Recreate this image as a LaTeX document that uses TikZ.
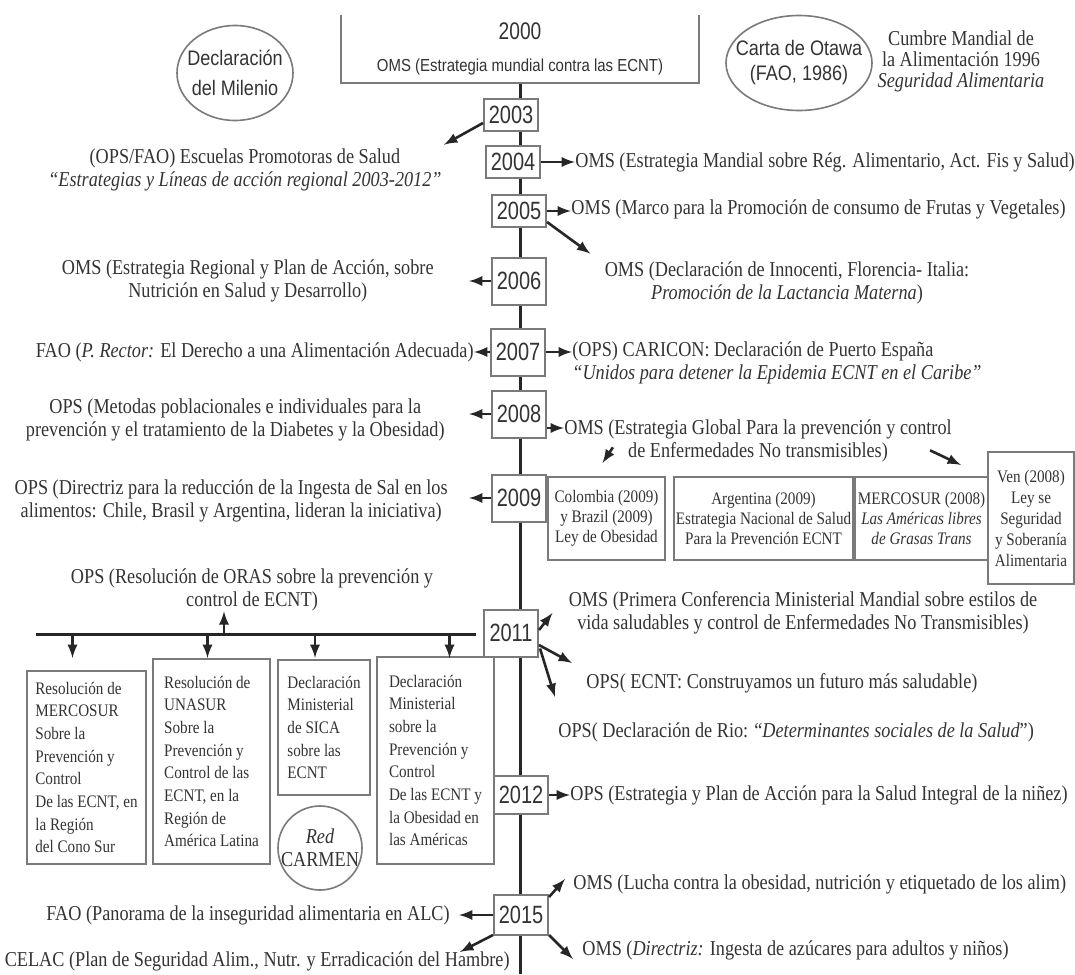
\documentclass[tikz,border=0pt]{standalone}
\usepackage{fontspec}
\setmainfont{Liberation Serif}[FakeStretch=0.86]
\setsansfont{Liberation Sans}[FakeStretch=0.86]
\newfontfamily\yearfont{Liberation Sans}[FakeStretch=0.8]
\usepackage{tikz}
\usetikzlibrary{arrows,positioning,shapes.geometric,calc,backgrounds}
\definecolor{ink}{HTML}{333333}
\definecolor{frame}{HTML}{7A7A7A}
\newcommand\txtsize{\fontsize{10.6}{11.3}\selectfont}
\newcommand\boxsize{\fontsize{8.8}{11.35}\selectfont}

\begin{document}
\begin{tikzpicture}[x=0.5pt, y=-0.5pt, >=latex,
    every node/.style={text=ink, inner sep=0pt},
    txt/.style={font=\txtsize, align=center},
    yearbox/.style={draw=frame, line width=1pt, fill=white,
        font={\yearfont\fontsize{12.5}{13}\selectfont},
        minimum width=27pt, minimum height=23.5pt},
    yearsmall/.style={yearbox, minimum height=16pt},
    evbox/.style={draw=frame, line width=1pt, align=center,
        font=\fontsize{8.8}{10}\selectfont, anchor=north west},
    resbox/.style={draw=frame, line width=1pt, align=left,
        font=\boxsize, anchor=north west},
    oval/.style={draw=frame, ellipse, line width=0.8pt},
    arr/.style={->, line width=1.3pt, black!85},
    bar/.style={line width=1.5pt, black!85},
    timeline/.style={line width=1.5pt, black!85}]
\useasboundingbox (0,0) rectangle (1075,974);

\node[minimum width=179pt, minimum height=34pt, align=center] (y2000) at (520,49)
    {{\yearfont\fontsize{12}{12}\selectfont 2000}\\[4pt]
     {\sffamily\fontsize{8.7}{10}\selectfont OMS (Estrategia mundial contra las ECNT)}};
\draw[draw=frame, line width=1pt] (y2000.north west) |- (y2000.south east) -- (y2000.north east);

\node[oval, minimum width=58pt, minimum height=47.5pt] (milenio) at (235,73) {};
\node[font=\sffamily\fontsize{10.5}{15}\selectfont, align=center] at (milenio) {Declaración\\del Milenio};
\node[oval, minimum width=73pt, minimum height=47.5pt] (otawa) at (799,63) {};
\node[font=\sffamily\fontsize{10.5}{12.5}\selectfont, align=center] at (otawa) {Carta de Otawa\\(FAO, 1986)};
\node[txt, font=\fontsize{10.6}{10.5}\selectfont] (cumbre) at (961,61)
    {Cumbre Mandial de\\la Alimentación 1996\\\textit{Seguridad Alimentaria}};

\node[yearsmall] (y2003) at (511,115) {2003};
\node[yearsmall] (y2004) at (513,162) {2004};
\node[yearsmall] (y2005) at (519,211) {2005};
\node[yearbox] (y2006) at (519,281) {2006};
\node[yearbox] (y2007) at (518,352) {2007};
\node[yearbox] (y2008) at (519,414) {2008};
\node[yearbox] (y2009) at (519,498) {2009};
\node[yearbox] (y2011) at (511,633) {2011};
\node[yearbox, minimum height=19pt] (y2012) at (521,795) {2012};
\node[yearbox, minimum height=20pt] (y2015) at (521,915) {2015};
\coordinate (tlend) at (520,974);

\node[txt, anchor=east] (ops2003) at (442,170)
    {(OPS/FAO) Escuelas Promotoras de Salud\\\textit{“Estrategias y Líneas de acción regional 2003-2012”}};
\node[txt, anchor=west] (oms2004) at (575,162)
    {OMS (Estrategia Mandial sobre Rég. Alimentario, Act. Fis y Salud)};
\node[txt, anchor=west] (oms2005) at (571,209)
    {OMS (Marco para la Promoción de consumo de Frutas y Vegetales)};
\node[txt] (inno2005) at (787,283)
    {OMS (Declaración de Innocenti, Florencia- Italia:\\\textit{Promoción de la Lactancia Materna})};
\node[txt, anchor=east] (ops2006) at (434,281)
    {OMS (Estrategia Regional y Plan de Acción, sobre\\Nutrición en Salud y Desarrollo)};
\node[txt, anchor=east] (fao2007) at (474,352)
    {FAO (\textit{P. Rector:} El Derecho a una Alimentación Adecuada)};
\node[txt, anchor=west, align=left] (cari2007) at (572,363)
    {(OPS) CARICON: Declaración de Puerto España\\\textit{“Unidos para detener la Epidemia ECNT en el Caribe”}};
\node[txt, anchor=east] (ops2008) at (445,420)
    {OPS (Metodas poblacionales e individuales para la\\prevención y el tratamiento de la Diabetes y la Obesidad)};
\node[txt] (oms2008) at (758,441)
    {OMS (Estrategia Global Para la prevención y control\\de Enfermedades No transmisibles)};
\node[txt, anchor=east] (ops2009) at (448,501)
    {OPS (Directriz para la reducción de la Ingesta de Sal en los\\alimentos: Chile, Brasil y Argentina, lideran la iniciativa)};

\node[evbox, minimum width=58.5pt, minimum height=41.5pt] (col) at (547,476)
    {Colombia (2009)\\y Brazil (2009)\\Ley de Obesidad};
\node[evbox, minimum width=89.5pt, minimum height=41.5pt] (arg) at (673,476)
    {Argentina (2009)\\Estrategia Nacional de Salud\\Para la Prevención ECNT};
\node[evbox, minimum width=66.5pt, minimum height=41.5pt] (merc) at (arg.north east)
    {MERCOSUR (2008)\\\textit{Las Américas libres}\\\textit{de Grasas Trans}};
\node[evbox, minimum width=43pt, minimum height=66pt, font=\fontsize{8.8}{10.5}\selectfont] (ven) at (987,451)
    {Ven (2008)\\Ley se\\Seguridad\\y Soberanía\\Alimentaria};

\node[txt] (oras) at (252,590) {OPS (Resolución de ORAS sobre la prevención y\\control de ECNT)};
\coordinate (barW) at (36,634);
\coordinate (barE) at (476,634);
\coordinate (up) at (224,634);

\node[resbox, minimum width=59.5pt, minimum height=96.5pt] (b1) at (26,670)
    {Resolución de\\MERCOSUR\\Sobre la\\Prevención y\\Control\\De las ECNT, en\\la Región\\del Cono Sur};
\node[resbox, minimum width=58.5pt, minimum height=102.5pt] (b2) at (152,658)
    {Resolución de\\UNASUR\\Sobre la\\Prevención y\\Control de las\\ECNT, en la\\Región de\\América Latina};
\node[resbox, minimum width=46pt, minimum height=67.5pt] (b3) at (277,659)
    {Declaración\\Ministerial\\de SICA\\sobre las\\ECNT};
\node[resbox, minimum width=58.5pt, minimum height=103.5pt] (b4) at (376,656)
    {Declaración\\Ministerial\\sobre la\\Prevención y\\Control\\De las ECNT y\\la Obesidad en\\las Américas};
\node[draw=frame, line width=0.8pt, circle, minimum size=42pt] (carmen) at (320,848) {};
\node[txt] at (carmen) {\textit{Red}\\CARMEN};

\node[txt] (prim2011) at (803,613)
    {OMS (Primera Conferencia Ministerial Mandial sobre estilos de\\vida saludables y control de Enfermedades No Transmisibles)};
\node[txt, anchor=west] (ecnt2011) at (586,683) {OPS( ECNT: Construyamos un futuro más saludable)};
\node[txt, anchor=west] (rio2011) at (558,732)
    {OPS( Declaración de Rio: “\textit{Determinantes sociales de la Salud}”)};
\node[txt, anchor=west] (ops2012) at (570,795)
    {OPS (Estrategia y Plan de Acción para la Salud Integral de la niñez)};
\node[txt, anchor=west] (lucha2015) at (573,884)
    {OMS (Lucha contra la obesidad, nutrición y etiquetado de los alim)};
\node[txt, anchor=west] (azuc2015) at (582,950)
    {OMS (\textit{Directriz:} Ingesta de azúcares para adultos y niños)};
\node[txt, anchor=east] (fao2015) at (450,915) {FAO (Panorama de la inseguridad alimentaria en ALC)};
\node[txt, anchor=east] (celac) at (510,961)
    {CELAC (Plan de Seguridad Alim., Nutr. y Erradicación del Hambre)};

\begin{scope}[on background layer]
\draw[timeline] (y2000.south) -- (tlend);
\end{scope}

\draw[arr] ($(y2003.west)+(0,8)$) -- ($(ops2003.north east)+(2,-4)$);
\draw[arr] (y2004.east) -- (y2004.east -| oms2004.west);
\draw[arr] (y2005.east) -- (y2005.east -| oms2005.west);
\draw[arr] ($(y2005.south east)+(0,-6)$) -- ($(inno2005.north west)+(-14,-8)$);
\draw[arr] (y2006.west) -- ($(ops2006.east)+(35,0)$);
\draw[arr] (y2007.west) -- (y2007.west -| fao2007.east);
\draw[arr] (y2007.east) -- (y2007.east -| cari2007.west);
\draw[arr] (y2008.west) -- ($(y2008.west -| ops2008.east)+(24,0)$);
\draw[arr] ($(y2008.east)+(0,14)$) -- ($(y2008.east -| oms2008.west)+(0,14)$);
\draw[arr] ($(oms2008.south west)+(49,-15)$) -- ($(col.north)+(-4,-13)$);
\draw[arr] ($(oms2008.south east)+(-22,-12)$) -- ($(ven.north west)+(-26,14)$);
\draw[arr] (y2009.west) -- ($(y2009.west -| ops2009.east)+(21,0)$);

\draw[bar] (barW) -- (barE);
\draw[arr] (up) -- (up |- oras.south);
\foreach \b/\dx in {b1/-14,b2/-4,b3/-9,b4/14}{
    \coordinate (tip) at ($(\b.north)+(\dx,0)$);
    \draw[arr] (tip |- barW) -- (tip |- b2.north);
}
\draw[arr] ($(y2011.east)+(0,-3)$) -- ($(prim2011.west)+(-16,0)$);
\draw[arr] ($(y2011.east)+(0,12)$) -- ($(ecnt2011.west)+(-14,-20)$);
\draw[arr] ($(y2011.south east)+(1,-9)$) -- ($(rio2011.west)+(-3,-35)$);
\draw[arr] (y2012.east) -- (y2012.east -| ops2012.west);
\draw[arr] ($(y2015.north east)+(0,3)$) -- ($(lucha2015.west)+(-8,-5)$);
\draw[arr] ($(y2015.south east)+(0,-1)$) -- ($(azuc2015.west)+(-9,9)$);
\draw[arr] (y2015.west) -- ($(y2015.west -| fao2015.east)+(9,0)$);
\draw[arr] ($(y2015.south west)+(0,-1)$) -- ($(celac.north east)+(-50,1)$);
\end{tikzpicture}
\end{document}
